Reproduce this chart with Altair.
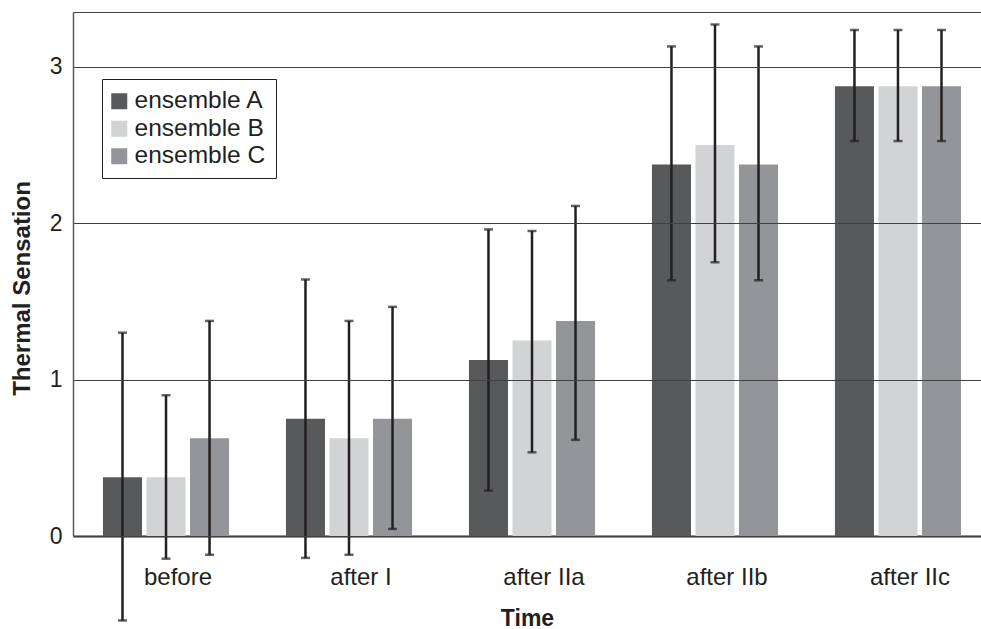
import altair as alt
import pandas as pd

times = ["before", "after I", "after IIa", "after IIb", "after IIc"]
ensembles = ["ensemble A", "ensemble B", "ensemble C"]
mean_a = [0.375, 0.75, 1.125, 2.375, 2.875]
mean_b = [0.375, 0.625, 1.25, 2.5, 2.875]
mean_c = [0.625, 0.75, 1.375, 2.375, 2.875]
upper_a = [1.30, 1.64, 1.96, 3.13, 3.235]
upper_b = [0.90, 1.375, 1.95, 3.27, 3.235]
upper_c = [1.375, 1.465, 2.11, 3.13, 3.235]
lower_a = [-0.54, -0.14, 0.29, 1.635, 2.525]
lower_b = [-0.145, -0.12, 0.535, 1.75, 2.525]
lower_c = [-0.12, 0.045, 0.615, 1.635, 2.525]
colors = ["#58595b", "#d1d3d4", "#939598"]
y_ticks = [0, 1, 2, 3, 3.35]

rows = []
for ens, means, ups, lows in zip(ensembles, [mean_a, mean_b, mean_c],
                                  [upper_a, upper_b, upper_c],
                                  [lower_a, lower_b, lower_c]):
    for t, m, u, l in zip(times, means, ups, lows):
        rows.append({"time": t, "ens": ens, "mean": m, "upper": u, "lower": l})
df = pd.DataFrame(rows)

FONT = "Liberation Sans"
INK = "#231f20"

x_enc = alt.X(
    "time:N", sort=times,
    scale=alt.Scale(paddingInner=0.311, paddingOuter=0.1365, align=0.6),
    axis=alt.Axis(title="Time", labelAngle=0, ticks=False, labelPadding=48,
                  labelBaseline="alphabetic", labelOffset=12, labelFontSize=24,
                  labelFont=FONT, labelColor=INK, titleFont=FONT,
                  titleFontSize=23, titleFontWeight="bold", titleColor=INK,
                  titleY=82, titleBaseline="middle",
                  domainColor="#6d6e71", domainWidth=2.5, grid=False),
)
xo_enc = alt.XOffset("ens:N", sort=ensembles,
                     scale=alt.Scale(paddingInner=0.103, paddingOuter=0))
y_scale = alt.Scale(domain=[0, 3.35], nice=False, zero=True)

bars = alt.Chart(df).mark_bar().encode(
    x=x_enc,
    xOffset=xo_enc,
    y=alt.Y("mean:Q", scale=y_scale,
            axis=alt.Axis(title="Thermal Sensation", values=y_ticks,
                          labelExpr="datum.value > 3.2 ? '' : format(datum.value, 'd')",
                          ticks=False, labelPadding=11, labelFontSize=23,
                          labelFont=FONT, labelColor=INK, titleFont=FONT,
                          titleFontSize=24, titleFontWeight="bold",
                          titleColor=INK, titleX=-51, titleY=276,
                          titleBaseline="middle", grid=True,
                          gridColor="#404041", gridWidth=1.2,
                          domainColor="#58595b", domainWidth=1.5, zindex=1)),
    color=alt.Color("ens:N", sort=ensembles,
                    scale=alt.Scale(domain=ensembles, range=colors),
                    legend=alt.Legend(title=None, orient="none", legendX=29,
                                      legendY=67, strokeColor=INK,
                                      fillColor="white", padding=10,
                                      symbolType="square", symbolSize=256,
                                      symbolStrokeWidth=0, symbolOffset=-5,
                                      labelFontSize=24.5,
                                      labelFont=FONT, labelColor=INK,
                                      rowPadding=2.5, labelOffset=3)),
)

rules = alt.Chart(df).mark_rule(color=INK, strokeWidth=2.5).encode(
    x=x_enc, xOffset=xo_enc, y=alt.Y("lower:Q", scale=y_scale), y2="upper:Q"
)
caps_top = alt.Chart(df).mark_tick(color=INK, size=9, thickness=2.5).encode(
    x=x_enc, xOffset=xo_enc, y=alt.Y("upper:Q", scale=y_scale)
)
caps_bot = alt.Chart(df).mark_tick(color=INK, size=9, thickness=2.5).encode(
    x=x_enc, xOffset=xo_enc, y=alt.Y("lower:Q", scale=y_scale)
)

chart = alt.layer(bars, rules, caps_top, caps_bot).properties(
    width=908, height=524,
    padding={"left": 73, "top": 12, "right": 0, "bottom": 93},
    autosize=alt.AutoSizeParams(type="none"),
).configure_view(stroke=None).configure(background="white")

chart.save("out.html", embed_options={"renderer": "svg", "actions": False})
